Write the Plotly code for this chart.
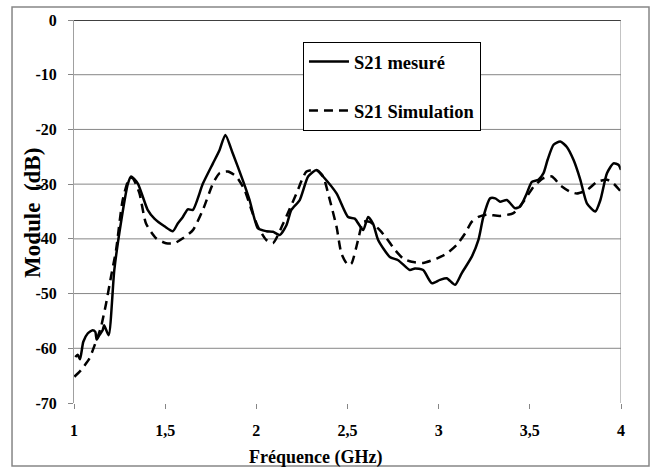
import plotly.graph_objects as go

# ---- data ----
freq_mes = [1.007, 1.02, 1.033, 1.051, 1.075, 1.102, 1.117, 1.124, 1.139, 1.157, 1.165, 1.19,
            1.221, 1.26, 1.295, 1.313, 1.35, 1.404, 1.441, 1.496, 1.542, 1.569, 1.597, 1.624,
            1.652, 1.707, 1.762, 1.798, 1.83, 1.871, 1.926, 1.963, 2.009, 2.055, 2.091, 2.128,
            2.165, 2.192, 2.238, 2.284, 2.33, 2.366, 2.44, 2.503, 2.54, 2.586, 2.613, 2.641,
            2.668, 2.732, 2.778, 2.842, 2.87, 2.915, 2.962, 3.007, 3.044, 3.09, 3.126, 3.181,
            3.218, 3.245, 3.282, 3.31, 3.337, 3.374, 3.419, 3.447, 3.483, 3.511, 3.547, 3.575,
            3.598, 3.63, 3.667, 3.703, 3.74, 3.777, 3.813, 3.859, 3.887, 3.923, 3.959, 3.987, 4.0]
s21_mes = [-61.6, -61.2, -62.0, -58.8, -57.3, -56.7, -57.0, -58.4, -57.6, -56.7, -55.8, -57.6,
           -45.7, -36.5, -30.0, -28.6, -29.9, -34.7, -36.3, -37.7, -38.6, -37.2, -36.0, -34.6,
           -34.7, -29.9, -26.2, -23.8, -21.0, -24.4, -29.3, -32.9, -38.1, -38.6, -38.7, -39.3,
           -37.5, -34.7, -32.9, -28.6, -27.4, -28.6, -31.7, -36.0, -36.3, -38.4, -36.0, -37.3,
           -40.2, -43.3, -43.9, -45.7, -45.4, -45.7, -48.1, -47.5, -47.2, -48.4, -46.3, -43.3,
           -40.2, -36.0, -32.6, -32.6, -33.2, -32.9, -34.4, -34.1, -31.7, -29.6, -29.2, -28.0,
           -25.5, -22.8, -22.2, -23.2, -25.6, -29.2, -33.5, -35.0, -32.9, -28.0, -26.2, -26.5, -27.4]

freq_sim = [1.002, 1.038, 1.084, 1.117, 1.148, 1.176, 1.203, 1.231, 1.267, 1.304, 1.322, 1.359,
            1.395, 1.45, 1.505, 1.551, 1.597, 1.652, 1.707, 1.762, 1.798, 1.844, 1.89, 1.936,
            1.973, 2.009, 2.055, 2.091, 2.15, 2.22, 2.275, 2.33, 2.366, 2.403, 2.44, 2.467,
            2.503, 2.522, 2.558, 2.586, 2.622, 2.677, 2.714, 2.76, 2.805, 2.852, 2.915, 2.989,
            3.044, 3.099, 3.145, 3.181, 3.218, 3.264, 3.337, 3.41, 3.465, 3.52, 3.575, 3.621,
            3.667, 3.722, 3.758, 3.813, 3.868, 3.923, 3.959, 4.0]
s21_sim = [-65.2, -64.0, -61.9, -59.1, -56.1, -51.8, -46.9, -42.0, -32.9, -28.9, -28.9, -31.7,
           -37.2, -39.9, -40.8, -40.8, -39.9, -38.4, -34.7, -29.9, -28.0, -27.7, -28.6, -31.1,
           -34.7, -37.8, -40.2, -40.8, -37.0, -31.7, -27.7, -27.4, -28.6, -32.9, -37.8, -42.7,
           -44.8, -44.5, -40.2, -36.9, -36.9, -38.4, -39.9, -42.0, -43.6, -44.2, -44.4, -43.6,
           -42.7, -41.1, -39.0, -36.9, -36.0, -35.6, -35.8, -35.3, -33.2, -30.5, -28.9, -28.6,
           -30.2, -31.4, -31.7, -31.1, -29.6, -29.2, -29.9, -31.4]

x_ticks = [1, 1.5, 2, 2.5, 3, 3.5, 4]
x_tick_labels = ["1", "1,5", "2", "2,5", "3", "3,5", "4"]
y_ticks = [0, -10, -20, -30, -40, -50, -60, -70]
y_grid = [-10, -20, -30, -40, -50, -60]

FONT = "Liberation Serif, Times New Roman, serif"

fig = go.Figure()
fig.add_trace(go.Scatter(x=freq_mes, y=s21_mes, mode="lines", name="<b>S21 mesuré</b>",
                         legendgroup="a",
                         line=dict(color="black", width=2.5, shape="spline", smoothing=0.6)))
fig.add_trace(go.Scatter(x=freq_sim, y=s21_sim, mode="lines", name="<b>S21 Simulation</b>",
                         legendgroup="b",
                         line=dict(color="black", width=2.5, dash="9px,6px", shape="spline", smoothing=0.6)))

shapes = []
for g in y_grid:
    shapes.append(dict(type="line", xref="x", yref="y", x0=1, x1=4, y0=g, y1=g,
                       line=dict(color="#868686", width=1), layer="below"))
# top axis line (0 dB) and right edge
shapes.append(dict(type="line", xref="x", yref="y", x0=1, x1=4, y0=0, y1=0,
                   line=dict(color="black", width=1.5)))
shapes.append(dict(type="line", xref="x", yref="y", x0=4, x1=4, y0=0, y1=-70,
                   line=dict(color="#868686", width=1)))
# outer chart border
shapes.append(dict(type="rect", xref="paper", yref="paper",
                   x0=-0.1133, x1=1.0512, y0=-0.1645, y1=1.0339,
                   line=dict(color="#868686", width=1.5), fillcolor="rgba(0,0,0,0)"))

fig.update_layout(
    width=650, height=468,
    margin=dict(l=74, r=29, t=20, b=65),
    paper_bgcolor="white", plot_bgcolor="white",
    font=dict(family=FONT, color="black"),
    shapes=shapes,
    showlegend=True,
    legend=dict(x=0.4186, y=0.9426, xanchor="left", yanchor="top",
                bgcolor="white", bordercolor="black", borderwidth=1,
                font=dict(family=FONT, size=18.5, color="black"),
                traceorder="grouped", tracegroupgap=22, itemwidth=40),
    xaxis=dict(range=[1, 4], tickvals=x_ticks,
               ticktext=["<b>%s</b>" % t for t in x_tick_labels],
               showgrid=False, zeroline=False, showline=False,
               ticks="outside", ticklen=5, tickcolor="#868686",
               tickfont=dict(family=FONT, size=16, color="black"),
               ticklabelstandoff=8),
    yaxis=dict(range=[-70, 0], tickvals=y_ticks,
               ticktext=["<b>%d</b>" % v for v in y_ticks],
               showgrid=False, zeroline=False, showline=True, linecolor="#a0a0a0", linewidth=1,
               ticks="outside", ticklen=5, tickcolor="#868686",
               tickfont=dict(family=FONT, size=16, color="black"),
               ticklabelstandoff=8),
    annotations=[
        dict(text="<b>Fréquence (GHz)</b>", xref="paper", yref="paper",
             x=(315 - 74) / 547, y=(403 - 457) / 383, xanchor="center", yanchor="middle",
             showarrow=False, font=dict(family=FONT, size=18, color="black")),
        dict(text="<b>Module\u00a0\u00a0(dB)</b>", xref="paper", yref="paper",
             x=(32 - 74) / 547, y=(403 - 213) / 383, xanchor="center", yanchor="middle",
             textangle=-90, showarrow=False, font=dict(family=FONT, size=23, color="black")),
    ],
)

fig.write_html("out.html")
